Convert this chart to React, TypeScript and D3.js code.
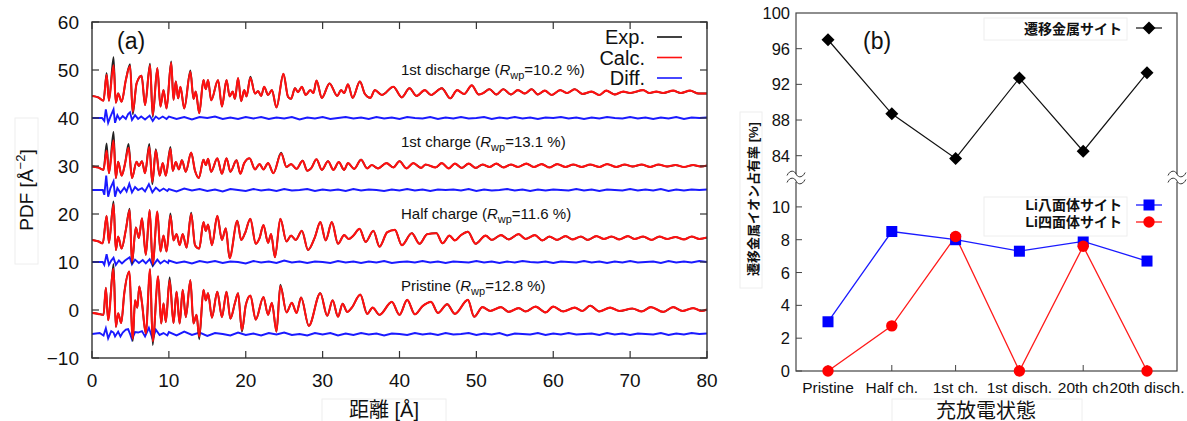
import React from 'react';
import * as d3 from 'd3';

type Pt = [number, number];

// ---------- Panel (a) data: PDF extrema [r (Å), G(r)] ----------
const calcDisch1: Pt[] = [[0,44.6],[0.8,44.3],[1.5,43.6],[1.9,49.0],[2.2,43.6],[2.8,51.0],[3.1,43.2],[3.4,45.1],[3.85,43.4],[4.4,47.9],[4.95,50.8],[5.3,41.3],[5.8,47.2],[6.45,48.8],[6.9,42.7],[7.55,51.0],[7.9,40.6],[8.5,50.4],[8.9,42.4],[9.3,45.8],[9.7,42.0],[10.3,51.5],[10.6,43.8],[10.9,47.6],[11.2,44.1],[11.5,46.5],[12.0,42.0],[12.8,49.6],[13.2,44.0],[13.5,45.5],[13.95,41.0],[14.5,47.9],[14.8,46.0],[15.1,47.9],[15.5,43.7],[16.4,47.9],[16.9,42.4],[17.5,47.9],[17.9,44.5],[18.3,45.5],[18.6,44.0],[19.0,48.3],[19.4,43.5],[19.8,45.8],[20.1,44.5],[20.6,48.4],[21.2,45.1],[21.6,45.6],[22.0,44.6],[22.4,46.5],[22.9,44.8],[23.4,45.8],[24.0,42.2],[24.9,49.2],[25.5,44.4],[25.9,44.0],[26.4,46.2],[26.8,45.4],[27.3,46.5],[27.8,44.8],[28.4,45.8],[28.8,45.2],[29.2,47.8],[29.9,44.2],[30.9,47.2],[31.9,44.6],[32.4,45.8],[32.8,45.2],[33.3,47.0],[33.9,44.2],[34.85,47.6],[35.5,45.0],[36.2,44.2],[36.8,45.8],[37.7,44.8],[39.2,46.5],[40.3,44.3],[41.3,46.2],[42.2,44.6],[43.3,45.8],[44.1,44.8],[45.5,46.2],[46.6,44.1],[47.5,45.8],[48.4,45.0],[49.4,46.8],[50.3,44.9],[50.9,45.2],[51.7,46.0],[52.6,44.9],[53.5,46.0],[54.5,44.9],[55.4,45.8],[56.3,45.1],[57.2,46.0],[58.0,44.9],[58.9,45.7],[59.8,44.8],[60.9,45.8],[61.8,45.2],[62.8,46.0],[63.8,45.0],[65.0,45.5],[66.0,44.8],[66.9,45.7],[68.0,44.9],[69.1,45.5],[70.0,45.2],[71.7,45.8],[72.5,45.2],[73.4,45.5],[74.3,45.2],[75.6,45.7],[76.6,45.2],[77.8,45.7],[78.9,45.1],[80,45.1]];

const calcCharge1: Pt[] = [[0,29.9],[0.8,29.7],[1.5,29.2],[1.9,33.2],[2.2,28.5],[2.8,35.3],[3.1,27.5],[3.4,30.9],[3.85,28.0],[4.3,30.5],[4.75,33.8],[5.2,27.5],[5.8,30.9],[6.1,30.0],[6.5,31.0],[6.9,28.5],[7.45,34.0],[7.85,26.7],[8.3,33.2],[8.8,28.0],[9.2,30.6],[9.6,28.0],[10.2,33.6],[10.5,29.0],[10.9,30.8],[11.3,29.3],[11.7,31.2],[12.2,28.8],[12.9,32.8],[13.4,29.0],[13.9,27.5],[14.5,31.3],[14.8,30.2],[15.1,31.5],[15.5,28.8],[16.3,31.6],[16.9,28.4],[17.5,31.6],[18.0,28.8],[18.8,31.2],[19.3,28.4],[19.8,30.6],[20.5,31.6],[21.2,29.3],[21.8,30.4],[22.3,29.3],[22.9,30.6],[23.6,28.5],[24.6,32.6],[25.3,29.8],[25.9,30.4],[26.6,29.4],[27.4,31.1],[28.0,29.0],[28.5,29.5],[29.2,31.4],[29.9,29.2],[30.7,31.0],[31.4,29.2],[32.1,30.8],[32.8,29.2],[33.3,30.6],[34.1,29.4],[35.0,31.3],[35.8,29.5],[36.4,30.2],[37.2,29.5],[38.3,30.6],[39.2,29.7],[40.0,31.0],[40.9,29.5],[41.8,30.6],[42.8,29.6],[43.4,30.3],[44.7,29.7],[45.5,30.6],[46.4,29.5],[47.2,30.5],[48.1,29.6],[49.0,30.5],[49.9,29.6],[50.8,30.3],[51.7,29.8],[52.6,30.5],[53.5,29.7],[54.5,30.3],[55.4,29.8],[56.5,30.5],[57.5,29.8],[58.5,30.4],[59.5,29.7],[60.5,30.4],[61.6,29.8],[62.6,30.3],[63.7,29.8],[64.8,30.3],[66.0,29.8],[67.0,30.4],[68.2,29.8],[69.3,30.3],[70.3,29.9],[71.5,30.3],[72.6,29.8],[73.7,30.3],[74.8,29.9],[75.9,30.2],[77.0,29.8],[78.2,30.2],[79.2,29.9],[80,30.1]];

const calcHalf: Pt[] = [[0,14.6],[0.8,14.3],[1.4,13.9],[1.9,19.6],[2.2,14.0],[2.8,22.0],[3.1,12.5],[3.4,15.3],[3.85,12.8],[4.4,16.7],[4.9,20.8],[5.2,10.1],[5.7,17.2],[6.1,15.0],[6.5,19.1],[7.0,11.5],[7.5,20.8],[7.9,9.6],[8.5,20.5],[8.9,12.2],[9.3,15.5],[9.7,12.2],[10.2,19.6],[10.6,14.5],[11.0,15.8],[11.4,13.5],[11.8,15.8],[12.3,13.0],[12.9,20.0],[13.4,13.5],[13.95,12.8],[14.5,18.3],[14.8,16.5],[15.1,17.8],[15.6,13.5],[16.3,19.6],[16.9,14.6],[17.4,17.0],[17.9,10.8],[18.9,18.6],[19.4,14.6],[19.9,16.0],[20.6,19.0],[21.3,13.8],[21.8,15.0],[22.3,17.7],[22.9,14.0],[23.3,15.8],[23.8,11.0],[24.5,19.0],[25.3,14.3],[25.9,15.5],[26.5,14.6],[27.3,16.5],[28.1,12.5],[29.0,15.2],[29.7,18.3],[30.4,14.5],[31.2,18.3],[32.0,13.8],[32.8,15.6],[33.4,14.8],[34.0,15.5],[34.8,16.9],[35.6,14.2],[36.6,16.5],[37.4,13.2],[38.4,16.2],[39.4,16.7],[40.3,13.5],[41.6,16.0],[42.6,13.8],[43.6,15.8],[44.8,16.0],[45.6,13.9],[46.5,15.5],[47.2,14.5],[48.0,15.6],[48.9,16.3],[49.9,13.8],[51.2,15.5],[52.0,14.6],[53.2,15.6],[54.2,14.7],[55.5,15.8],[56.4,14.8],[57.6,15.6],[58.6,14.5],[59.5,15.3],[60.5,14.6],[61.6,15.4],[62.5,14.7],[63.6,15.3],[64.5,14.6],[65.6,15.4],[66.6,14.8],[67.6,15.3],[68.6,14.7],[69.7,15.4],[70.6,14.8],[71.7,15.3],[72.8,14.6],[73.8,15.3],[74.8,14.8],[75.9,15.2],[77.0,14.7],[78.0,15.3],[79.0,14.8],[80,15.1]];

const calcPristine: Pt[] = [[0,-0.6],[0.8,-0.8],[1.5,-1.0],[1.8,4.6],[2.1,-2.1],[2.8,8.6],[3.1,-3.5],[3.4,-0.7],[3.8,-2.7],[4.2,3.5],[4.85,8.0],[5.3,-6.0],[5.6,2.0],[5.9,0.5],[6.15,4.9],[6.5,1.5],[7.0,-4.9],[7.55,8.5],[7.9,-6.5],[8.6,7.0],[9.0,-2.8],[9.3,1.4],[9.6,-2.5],[10.1,6.2],[10.6,-2.7],[11.0,3.8],[11.4,-2.8],[11.8,4.2],[12.2,-1.5],[12.8,6.2],[13.2,-2.8],[13.6,-1.0],[13.95,-5.5],[14.5,4.2],[14.8,2.0],[15.1,3.5],[15.6,-1.6],[16.3,3.8],[16.9,-1.5],[17.5,3.8],[18.0,-1.8],[18.6,1.5],[19.0,3.5],[19.5,-4.2],[20.0,1.0],[20.6,3.0],[21.3,-2.0],[22.3,2.7],[22.9,-1.0],[23.4,1.5],[24.0,-4.5],[24.5,5.0],[25.3,-0.5],[26.0,1.5],[26.6,-0.6],[27.2,2.6],[28.2,-3.3],[29.7,3.5],[30.6,-1.2],[31.3,2.0],[32.0,-1.4],[32.6,1.3],[33.2,-0.4],[33.8,0.5],[34.9,3.2],[35.8,-0.8],[36.5,0.5],[37.4,-1.0],[39.0,1.7],[40.0,-1.0],[41.0,2.1],[42.0,-0.9],[43.0,0.8],[44.1,1.7],[45.0,-0.6],[46.2,1.2],[47.2,-0.8],[48.9,2.1],[49.7,-1.4],[50.8,0.6],[51.8,-0.2],[53.2,0.6],[54.2,-0.4],[55.5,0.4],[56.4,-0.3],[57.7,0.7],[59.0,-0.5],[60.0,0.7],[61.3,-0.3],[62.8,0.5],[63.8,-0.2],[64.8,0.9],[66.0,-0.3],[67.4,0.5],[68.6,-0.2],[70.3,0.3],[71.5,-0.3],[72.7,0.6],[74.3,-0.4],[75.6,0.6],[76.8,-0.2],[78.2,0.4],[79.3,-0.2],[80,0.1]];

// Exp - Calc differences at individual extrema [r, delta]
const expDeltaDisch1: Pt[] = [[1.9,0.4],[2.8,1.7],[4.95,0.4],[5.3,-0.5],[7.55,0.3],[7.9,-0.4],[10.3,0.3],[12.8,0.3],[20.6,0.2]];
const expDeltaCharge1: Pt[] = [[1.9,1.5],[2.8,1.8],[4.75,0.8],[7.45,0.6],[7.85,-0.5],[8.3,0.3],[10.2,0.4],[24.6,0.2]];
const expDeltaHalf: Pt[] = [[2.8,0.6],[4.9,0.3],[5.2,-0.5],[7.9,-0.5],[10.2,0.5],[12.9,0.3]];
const expDeltaPristine: Pt[] = [[2.8,1.0],[5.3,-0.5],[7.9,-0.8],[10.1,0.6],[13.95,-0.6],[24.5,0.3],[19.5,-0.3]];

// Difference curves: baselines and short-range deviations
const diffBase = [40, 25, 10, -5];
const diffHeadDisch1: Pt[] = [[0,0],[1.3,0],[1.6,-0.6],[1.8,1.8],[2.1,-1.0],[2.4,0.3],[2.8,1.8],[3.0,-1.0],[3.3,0.6],[3.6,-0.3],[4.0,0.4],[4.4,-0.2],[4.7,0.8],[4.95,1.2],[5.2,-0.4],[5.6,0.6],[6.0,-0.2],[6.4,0.3],[6.9,-0.3],[7.5,0.5],[7.9,-0.6],[8.3,0.3],[8.7,-0.2],[9.2,0.3],[9.7,-0.2]];
const diffHeadCharge1: Pt[] = [[0,0],[1.4,0],[1.6,-1.0],[1.85,3.0],[2.1,-1.4],[2.4,0.4],[2.8,1.8],[3.0,-1.4],[3.3,0.4],[3.7,-0.6],[4.2,0.5],[4.5,-0.3],[4.85,1.3],[5.2,-0.5],[5.6,0.6],[6.0,0],[6.5,0.4],[6.9,-0.3],[7.4,1.2],[7.85,-0.5],[8.3,0.5],[8.8,-0.2],[9.3,0.3],[9.8,-0.2]];
const diffHeadHalf: Pt[] = [[0,0],[1.4,0],[1.6,-0.6],[1.9,1.6],[2.2,-0.6],[2.5,0.3],[2.8,0.9],[3.1,-0.6],[3.5,0.3],[3.9,-0.3],[4.3,0.3],[4.9,1.0],[5.2,-0.5],[5.6,0.5],[6.1,-0.2],[6.6,0.4],[7.0,-0.3],[7.5,0.6],[7.9,-0.8],[8.5,0.5],[8.9,-0.3],[9.4,0.3],[9.9,-0.2]];
const diffHeadPristine: Pt[] = [[0,0],[1.0,0.2],[1.5,-0.3],[1.8,1.2],[2.1,-0.9],[2.5,0.6],[2.8,0.3],[3.0,-0.5],[3.4,0.5],[3.7,-0.5],[4.0,0.3],[4.4,0.9],[4.7,1.0],[5.0,-0.2],[5.2,-1.1],[5.6,0.4],[6.0,0.3],[6.5,0.6],[6.9,-0.5],[7.4,1.3],[7.9,-1.1],[8.3,0.9],[8.8,-0.2],[9.3,0.2],[9.8,-0.3]];
// r = 10 … 80 Å (1 Å step)
const diffTailDisch1 = [0.3,-0.2,0.2,-0.3,0.2,0.0,0.3,-0.2,0.1,-0.2,0.2,-0.1,0.2,-0.2,0.1,-0.1,0.2,-0.3,0.1,-0.1,0.2,-0.2,0.0,0.2,-0.1,0.1,-0.2,0.2,-0.1,0.1,-0.2,0.2,0.0,-0.1,0.2,-0.2,0.1,-0.1,0.2,-0.1,0.0,0.2,-0.2,0.1,-0.1,0.2,-0.1,0.1,-0.2,0.1,0.0,0.2,-0.1,0.1,-0.2,0.1,-0.1,0.2,0.0,-0.1,0.2,-0.1,0.1,-0.2,0.1,-0.1,0.2,-0.2,0.1,0.0,0.1];
const diffTailCharge1 = [0.2,-0.3,0.3,-0.1,0.2,-0.2,0.1,-0.3,0.2,0.0,-0.2,0.2,-0.1,0.1,-0.2,0.2,-0.1,0.0,0.2,-0.2,0.1,-0.1,0.1,-0.2,0.2,-0.1,0.1,0.0,-0.2,0.1,-0.1,0.2,-0.1,0.1,-0.2,0.1,0.0,0.1,-0.1,0.2,-0.2,0.1,-0.1,0.0,0.2,-0.1,0.1,-0.2,0.1,-0.1,0.1,0.0,-0.1,0.2,-0.1,0.1,-0.2,0.1,0.0,-0.1,0.2,-0.1,0.1,-0.1,0.2,-0.2,0.1,-0.1,0.1,0.0,0.1];
const diffTailHalf = [0.3,-0.2,0.1,-0.3,0.2,-0.1,0.2,-0.2,0.1,0.0,-0.3,0.2,-0.1,0.1,-0.2,0.3,-0.1,0.1,-0.2,0.1,0.0,-0.2,0.2,-0.1,0.1,-0.2,0.1,-0.1,0.2,-0.2,0.0,0.1,-0.1,0.2,-0.1,0.1,-0.2,0.1,0.0,-0.1,0.2,-0.1,0.1,-0.2,0.1,-0.1,0.2,0.0,-0.1,0.1,-0.2,0.1,0.0,-0.1,0.2,-0.1,0.1,-0.2,0.1,-0.1,0.2,-0.1,0.0,0.1,-0.2,0.2,-0.1,0.1,-0.1,0.2,0.0];
const diffTailPristine = [0.4,-0.3,0.5,-0.2,0.3,-0.4,0.2,0.0,-0.3,0.3,-0.2,0.1,-0.3,0.2,-0.1,0.3,-0.2,0.0,-0.3,0.2,-0.1,0.2,-0.3,0.1,-0.2,0.2,-0.1,0.1,-0.3,0.1,0.0,-0.2,0.2,-0.1,0.1,-0.2,0.2,-0.1,0.0,0.2,-0.2,0.1,-0.1,0.2,-0.3,0.1,0.0,-0.1,0.2,-0.2,0.1,-0.1,0.2,-0.1,0.0,0.1,-0.2,0.2,-0.1,0.1,-0.2,0.1,0.0,-0.1,0.2,-0.2,0.1,-0.1,0.2,0.0,0.1];

const stateLabels = ['1st discharge', '1st charge', 'Half charge', 'Pristine'];
const rwpValues = ['10.2', '13.1', '11.6', '12.8'];
const labelY = [50, 35, 20, 5];
const xTicksA = [0, 10, 20, 30, 40, 50, 60, 70, 80];
const yTicksA = [-10, 0, 10, 20, 30, 40, 50, 60];
const legendA = ['Exp.', 'Calc.', 'Diff.'];

// ---------- Panel (b) data ----------
const categories = ['Pristine', 'Half ch.', '1st ch.', '1st disch.', '20th ch', '20th disch.'];
const tmSite = [97.0, 88.7, 83.7, 92.7, 84.5, 93.3];
const liOct = [3.0, 8.5, 8.0, 7.3, 7.9, 6.7];
const liTet = [0.0, 2.75, 8.2, 0.0, 7.6, 0.0];
const yTicksUpper = [84, 88, 92, 96, 100];
const yTicksLower = [0, 2, 4, 6, 8, 10];

const FONT = "'Liberation Sans', Arial, Helvetica, sans-serif";
const JFONT = "'Liberation Sans', 'Noto Sans CJK JP', sans-serif";
const LEG_COLORS = ['#111', '#ff1010', '#1a1aff'];

function applyDelta(calc: Pt[], delta: Pt[]): Pt[] {
  return calc.map(([r, v]) => {
    const d = delta.find(([dr]) => Math.abs(dr - r) < 0.03);
    return [r, v + (d ? d[1] : 0)] as Pt;
  });
}
function buildDiff(base: number, head: Pt[], tail: number[]): Pt[] {
  const pts: Pt[] = head.map(([r, v]) => [r, base + v] as Pt);
  const n = tail.length;
  tail.forEach((v, i) => pts.push([10 + (i * 70) / (n - 1), base + v]));
  return pts;
}

const CALC = [calcDisch1, calcCharge1, calcHalf, calcPristine];
const DELTAS = [expDeltaDisch1, expDeltaCharge1, expDeltaHalf, expDeltaPristine];
const HEADS = [diffHeadDisch1, diffHeadCharge1, diffHeadHalf, diffHeadPristine];
const TAILS = [diffTailDisch1, diffTailCharge1, diffTailHalf, diffTailPristine];

function PanelA() {
  const x = d3.scaleLinear().domain([0, 80]).range([92, 707]);
  const y = d3.scaleLinear().domain([-10, 60]).range([358, 22]);
  const smooth = d3.line<Pt>().x(d => x(d[0])).y(d => y(d[1])).curve(d3.curveMonotoneX);
  const straight = d3.line<Pt>().x(d => x(d[0])).y(d => y(d[1]));
  const [x0, x1] = x.range();
  const [yb, yt] = y.range();
  const tk = 7;
  return (
    <g>
      <defs>
        <clipPath id="clipA"><rect x={x0} y={yt} width={x1 - x0} height={yb - yt} /></clipPath>
      </defs>
      <g clipPath="url(#clipA)">
        {CALC.map((c, i) => (
          <g key={i}>
            <path d={straight(buildDiff(diffBase[i], HEADS[i], TAILS[i])) || ''} fill="none" stroke="#1a1aff" strokeWidth={1.9} />
            <path d={smooth(applyDelta(c, DELTAS[i])) || ''} fill="none" stroke="#222" strokeWidth={1.8} />
            <path d={smooth(c) || ''} fill="none" stroke="#ff1010" strokeWidth={2.1} />
          </g>
        ))}
      </g>
      <rect x={x0} y={yt} width={x1 - x0} height={yb - yt} fill="none" stroke="#333" strokeWidth={1.4} />
      {xTicksA.map(t => (
        <g key={'x' + t}>
          <line x1={x(t)} x2={x(t)} y1={yb} y2={yb - tk} stroke="#333" strokeWidth={1.2} />
          <line x1={x(t)} x2={x(t)} y1={yt} y2={yt + tk} stroke="#333" strokeWidth={1.2} />
          <text x={x(t)} y={387} textAnchor="middle" fontSize={19} fontFamily={FONT} fill="#111">{t}</text>
        </g>
      ))}
      {yTicksA.map(t => (
        <g key={'y' + t}>
          <line x1={x0} x2={x0 + tk} y1={y(t)} y2={y(t)} stroke="#333" strokeWidth={1.2} />
          <line x1={x1} x2={x1 - tk} y1={y(t)} y2={y(t)} stroke="#333" strokeWidth={1.2} />
          <text x={79} y={y(t) + 7} textAnchor="end" fontSize={19} fontFamily={FONT} fill="#111">{t < 0 ? '\u2212' + Math.abs(t) : t}</text>
        </g>
      ))}
      <text x={117} y={49} fontSize={23} fontFamily={FONT} fill="#111">(a)</text>
      {stateLabels.map((s, i) => (
        <text key={s} x={x(40.2)} y={y(labelY[i]) + 5} fontSize={15} fontFamily={FONT} fill="#111">
          {s} (<tspan fontStyle="italic">R</tspan><tspan fontSize={11} dy={4}>wp</tspan><tspan dy={-4}>={rwpValues[i]} %)</tspan>
        </text>
      ))}
      {legendA.map((t, i) => (
        <g key={t}>
          <text x={645} y={44 + i * 20.5} textAnchor="end" fontSize={20} fontFamily={FONT} fill="#111">{t}</text>
          <line x1={657} x2={682} y1={37 + i * 20.5} y2={37 + i * 20.5} stroke={LEG_COLORS[i]} strokeWidth={1.6} />
        </g>
      ))}
      <rect x={15} y={118} width={23} height={146} fill="none" stroke="#eee" strokeWidth={1} />
      <text transform="translate(33,190) rotate(-90)" textAnchor="middle" fontSize={19} fontFamily={FONT} fill="#111">
        PDF [Å<tspan fontSize={13} dy={-8}>−2</tspan><tspan dy={8}>]</tspan>
      </text>
      <rect x={322} y={399} width={124} height={24} fill="none" stroke="#eee" strokeWidth={1} />
      <text x={384} y={417} textAnchor="middle" fontSize={20} fontFamily={JFONT} fill="#111">距離 [Å]</text>
    </g>
  );
}

function PanelB() {
  const x = d3.scalePoint<string>().domain(categories).range([828, 1147]);
  const yUp = d3.scaleLinear().domain([81.5, 100]).range([178, 13]);
  const yLo = d3.scaleLinear().domain([0, 11.7]).range([371, 179]);
  const L = 796, R = 1177, T = 13, B = 371;
  const lineUp = d3.line<number>().x((_, i) => x(categories[i])!).y(d => yUp(d));
  const lineLo = d3.line<number>().x((_, i) => x(categories[i])!).y(d => yLo(d));
  const diamond = (cx: number, cy: number, s: number) => `M${cx},${cy - s}L${cx + s},${cy}L${cx},${cy + s}L${cx - s},${cy}Z`;
  const tilde = (cx: number, cy: number) => `M${cx - 9},${cy + 1.5} C${cx - 6},${cy - 5} ${cx - 1},${cy - 3} ${cx},${cy} S${cx + 6},${cy + 5} ${cx + 9},${cy - 1.5}`;
  const breakY = 178;
  return (
    <g>
      <rect x={L} y={T} width={R - L} height={B - T} fill="none" stroke="#444" strokeWidth={1.2} />
      {[L, R].map(bx => (
        <g key={bx}>
          <rect x={bx - 3} y={breakY - 4} width={6} height={8} fill="#fff" />
          <path d={tilde(bx, breakY - 4)} fill="none" stroke="#333" strokeWidth={1} />
          <path d={tilde(bx, breakY + 3)} fill="none" stroke="#333" strokeWidth={1} />
        </g>
      ))}
      {yTicksUpper.map(t => (
        <g key={'u' + t}>
          {t < 100 && <line x1={L} x2={L + 6} y1={yUp(t)} y2={yUp(t)} stroke="#444" strokeWidth={1} />}
          <text x={790} y={yUp(t) + 6} textAnchor="end" fontSize={16.5} fontFamily={FONT} fill="#111">{t}</text>
        </g>
      ))}
      {yTicksLower.map(t => (
        <g key={'l' + t}>
          <line x1={L} x2={L + 6} y1={yLo(t)} y2={yLo(t)} stroke="#444" strokeWidth={1} />
          <text x={790} y={yLo(t) + 6} textAnchor="end" fontSize={16.5} fontFamily={FONT} fill="#111">{t}</text>
        </g>
      ))}
      {categories.map(c => (
        <g key={c}>
          <line x1={x(c)} x2={x(c)} y1={B} y2={B - 6} stroke="#444" strokeWidth={1} />
          <text x={x(c)} y={393} textAnchor="middle" fontSize={15.5} fontFamily={FONT} fill="#111">{c}</text>
        </g>
      ))}
      <path d={lineUp(tmSite) || ''} fill="none" stroke="#111" strokeWidth={1.2} />
      {tmSite.map((v, i) => <path key={i} d={diamond(x(categories[i])!, yUp(v), 6.5)} fill="#000" />)}
      <path d={lineLo(liOct) || ''} fill="none" stroke="#1a1aff" strokeWidth={1.3} />
      <path d={lineLo(liTet) || ''} fill="none" stroke="#ff1a1a" strokeWidth={1.3} />
      {liOct.map((v, i) => <rect key={'o' + i} x={x(categories[i])! - 5.5} y={yLo(v) - 5.5} width={11} height={11} fill="#0000ff" />)}
      {liTet.map((v, i) => <circle key={'t' + i} cx={x(categories[i])!} cy={yLo(v)} r={5.7} fill="#ff0000" />)}
      <text x={863} y={49} fontSize={23} fontFamily={FONT} fill="#111">(b)</text>
      <rect x={984} y={18} width={143} height={22} fill="#fff" stroke="#eee" strokeWidth={1} />
      <text x={1122} y={34} textAnchor="end" fontSize={14} fontWeight="bold" fontFamily={JFONT} fill="#111">遷移金属サイト</text>
      <line x1={1136} x2={1162} y1={28} y2={28} stroke="#111" strokeWidth={1.2} />
      <path d={diamond(1149, 28, 6.5)} fill="#000" />
      <rect x={984} y={197} width={143} height={39} fill="#fff" stroke="#eee" strokeWidth={1} />
      <text x={1122} y={210} textAnchor="end" fontSize={14} fontWeight="bold" fontFamily={JFONT} fill="#111">Li八面体サイト</text>
      <line x1={1136} x2={1162} y1={205} y2={205} stroke="#1a1aff" strokeWidth={1.3} />
      <rect x={1143.5} y={199.5} width={11} height={11} fill="#0000ff" />
      <text x={1122} y={227} textAnchor="end" fontSize={14} fontWeight="bold" fontFamily={JFONT} fill="#111">Li四面体サイト</text>
      <line x1={1136} x2={1162} y1={222} y2={222} stroke="#ff1a1a" strokeWidth={1.3} />
      <circle cx={1149} cy={222} r={5.7} fill="#ff0000" />
      <rect x={740} y={112} width={22} height={176} fill="none" stroke="#eee" strokeWidth={1} />
      <text transform="translate(753,199) rotate(-90)" textAnchor="middle" dominantBaseline="central" fontSize={13} fontWeight="bold" fontFamily={JFONT} fill="#111">遷移金属イオン占有率 [%]</text>
      <rect x={892} y={399} width={190} height={24} fill="none" stroke="#eee" strokeWidth={1} />
      <text x={986} y={418} textAnchor="middle" fontSize={20} fontFamily={JFONT} fill="#111">充放電状態</text>
    </g>
  );
}

export default function App() {
  return (
    <svg width={1187} height={421} viewBox="0 0 1187 421" style={{ position: 'absolute', left: 0, top: 0, background: '#fff' }}>
      <rect width={1187} height={421} fill="#fff" />
      <PanelA />
      <PanelB />
    </svg>
  );
}
